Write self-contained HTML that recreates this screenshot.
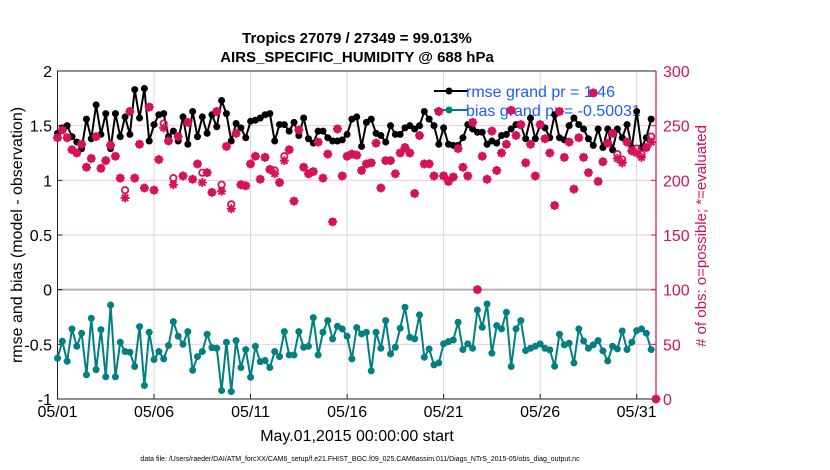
<!DOCTYPE html>
<html><head><meta charset="utf-8"><style>
body{margin:0;background:#fff;}
svg{display:block;font-family:"Liberation Sans",sans-serif;}
</style></head><body>
<svg id="chart" width="830" height="470" viewBox="0 0 830 470" xmlns="http://www.w3.org/2000/svg">
<rect width="830" height="470" fill="#fff"/>
<text x="357" y="43" text-anchor="middle" font-size="15" font-weight="bold">Tropics 27079 / 27349 = 99.013%</text>
<text x="357" y="62" text-anchor="middle" font-size="15" font-weight="bold">AIRS_SPECIFIC_HUMIDITY @ 688 hPa</text>
<g id="grid"></g>
<g id="axes"></g>
<g id="legend">
<line x1="434" y1="91" x2="468" y2="91" stroke="#000" stroke-width="2"/>
<circle cx="449" cy="91" r="3.5" fill="#000"/>
<text x="466" y="97" font-size="16" fill="#1f5cff">rmse grand pr = 1.46</text>
<line x1="434" y1="110" x2="468" y2="110" stroke="#008080" stroke-width="2"/>
<circle cx="449" cy="110" r="3.5" fill="#008080"/>
<text x="466" y="116" font-size="16" fill="#1f5cff">bias grand pr = -0.50031</text>
</g>
<g id="marks"></g>
<text transform="translate(22,235) rotate(-90)" text-anchor="middle" font-size="16">rmse and bias (model - observation)</text>
<text transform="translate(706,236) rotate(-90)" text-anchor="middle" font-size="15" fill="#d0105a"># of obs: o=possible; *=evaluated</text>
<text x="357" y="441" text-anchor="middle" font-size="16">May.01,2015 00:00:00 start</text>
<text x="360" y="461" text-anchor="middle" font-size="7">data file: /Users/raeder/DAI/ATM_forcXX/CAM6_setup/f.e21.FHIST_BGC.f09_025.CAM6assim.011/Diags_NTrS_2015-05/obs_diag_output.nc</text>
</svg>
<script>
const xTickLabels=["05/01","05/06","05/11","05/16","05/21","05/26","05/31"];
const xTickDays=[0,5,10,15,20,25,30];
const yTicks=[2,1.5,1,0.5,0,-0.5,-1];
const yTickLabels=["2","1.5","1","0.5","0","-0.5","-1"];
const y2Ticks=[300,250,200,150,100,50,0];
const rmse=[1.43,1.48,1.50,1.40,1.35,1.29,1.56,1.38,1.69,1.42,1.61,1.29,1.61,1.40,1.58,1.42,1.83,1.57,1.84,1.36,1.51,1.60,1.61,1.40,1.45,1.36,1.58,1.33,1.63,1.40,1.58,1.43,1.60,1.49,1.73,1.61,1.36,1.52,1.48,1.39,1.54,1.55,1.57,1.60,1.61,1.36,1.51,1.51,1.45,1.53,1.41,1.57,1.38,1.34,1.45,1.45,1.39,1.36,1.36,1.37,1.42,1.56,1.58,1.31,1.53,1.56,1.43,1.41,1.35,1.50,1.42,1.42,1.48,1.50,1.47,1.50,1.63,1.56,1.50,1.33,1.48,1.33,1.32,1.32,1.39,1.51,1.47,1.44,1.44,1.33,1.36,1.34,1.41,1.42,1.47,1.51,1.50,1.38,1.57,1.38,1.51,1.48,1.39,1.60,1.39,1.37,1.50,1.57,1.51,1.47,1.38,1.32,1.47,1.30,1.47,1.28,1.47,1.39,1.51,1.30,1.63,1.30,1.39,1.56];
const bias=[-0.627,-0.472,-0.655,-0.359,-0.518,-0.399,-0.779,-0.262,-0.731,-0.365,-0.797,-0.140,-0.797,-0.481,-0.566,-0.572,-0.703,-0.338,-0.877,-0.390,-0.639,-0.566,-0.633,-0.511,-0.292,-0.426,-0.499,-0.384,-0.737,-0.612,-0.566,-0.408,-0.530,-0.536,-0.922,-0.481,-0.932,-0.466,-0.712,-0.548,-0.801,-0.518,-0.658,-0.648,-0.712,-0.566,-0.612,-0.384,-0.597,-0.597,-0.384,-0.527,-0.518,-0.256,-0.597,-0.390,-0.283,-0.450,-0.335,-0.359,-0.426,-0.633,-0.347,-0.405,-0.390,-0.743,-0.390,-0.536,-0.283,-0.588,-0.527,-0.353,-0.161,-0.435,-0.450,-0.231,-0.618,-0.542,-0.688,-0.670,-0.496,-0.475,-0.460,-0.298,-0.548,-0.496,-0.536,-0.186,-0.344,-0.131,-0.581,-0.329,-0.359,-0.207,-0.703,-0.359,-0.283,-0.557,-0.536,-0.518,-0.496,-0.536,-0.551,-0.700,-0.408,-0.505,-0.490,-0.670,-0.359,-0.469,-0.536,-0.505,-0.466,-0.560,-0.652,-0.518,-0.542,-0.378,-0.548,-0.481,-0.375,-0.359,-0.399,-0.548];
const evaluated=[239,246,239,228,225,233,212,220,240,211,218,232,222,202,184,263,202,233,193,267,191,219,248,236,196,240,204,253,201,215,198,207,189,263,190,231,174,243,196,195,215,222,201,221,210,206,198,218,228,181,246,212,206,208,235,202,224,162,247,204,222,224,223,209,215,216,234,193,218,218,206,225,230,225,188,241,215,215,204,263,204,199,203,229,212,204,253,100,222,201,245,209,225,233,264,241,251,216,233,204,251,238,225,177,263,221,235,192,239,221,207,280,199,217,234,243,220,216,235,227,225,221,230,235,0];
const possible=[239,246,239,228,225,233,212,220,240,211,218,232,222,202,191,263,202,233,193,267,191,219,252,236,202,240,204,253,201,215,207,207,189,263,196,231,178,243,196,195,215,222,201,221,210,209,198,222,228,181,246,212,206,208,235,202,224,162,247,204,222,224,223,209,215,216,234,193,218,218,206,225,230,225,188,241,215,215,204,263,204,199,203,229,212,204,253,100,222,201,245,209,225,233,264,241,251,216,233,204,251,238,225,177,263,221,235,192,239,221,207,280,199,217,234,243,224,219,235,227,229,224,230,240,0];

const NS="http://www.w3.org/2000/svg";
const X0=57.5,X1=656,Y0=71,Y1=399,TMAX=31;
const xs=d=>X0+(d/TMAX)*(X1-X0);
const ys=v=>Y0+(2-v)/3*(Y1-Y0);
const y2s=c=>Y1-c/300*(Y1-Y0);
const tOf=i=>i*0.25;
function mk(tag,attrs,parent){const e=document.createElementNS(NS,tag);for(const k in attrs)e.setAttribute(k,attrs[k]);parent.appendChild(e);return e;}
const grid=document.getElementById('grid'),axes=document.getElementById('axes'),marks=document.getElementById('marks');
const PINK="#d5125c";
yTicks.forEach((v,i)=>{
  if(v!==2&&v!==-1&&v!==0){const l=mk('line',{x1:X0,x2:X1,y1:ys(v),y2:ys(v),stroke:'#f4c8d8','stroke-width':1},grid);
    
    }
  const t=mk('text',{x:52,y:ys(v)+6,'text-anchor':'end','font-size':16},axes);t.textContent=yTickLabels[i];
  
  
  mk('line',{x1:X0,x2:X0+5,y1:ys(v),y2:ys(v),stroke:'#222'},axes);
});
xTickDays.forEach((d,i)=>{
  if(d>0){const l=mk('line',{x1:xs(d),x2:xs(d),y1:Y0,y2:Y1,stroke:'#d8d8d8','stroke-width':1},grid);
    
    }
  mk('line',{x1:xs(d),x2:xs(d),y1:Y1,y2:Y1-5,stroke:'#222'},axes);
  const t=mk('text',{x:xs(d),y:417,'text-anchor':'middle','font-size':16},axes);t.textContent=xTickLabels[i];
  
  
});
const z=mk('line',{x1:X0,x2:X1,y1:ys(0),y2:ys(0),stroke:'#b8b0b4','stroke-width':2},grid);


y2Ticks.forEach(c=>{
  mk('line',{x1:X1-5,x2:X1,y1:y2s(c),y2:y2s(c),stroke:PINK},axes);
  const t=mk('text',{x:663,y:y2s(c)+6,'font-size':16,fill:PINK},axes);t.textContent=String(c);
  
  
});
const frame=mk('path',{d:`M${X1},${Y0} L${X0},${Y0} L${X0},${Y1} L${X1},${Y1}`,fill:'none',stroke:'#222','stroke-width':1},axes);


const rax=mk('line',{x1:X1,x2:X1,y1:Y0,y2:Y1,stroke:PINK,'stroke-width':1.2},axes);



function series(vals,color,name){
  const g=mk('g',{},marks);
  
  
  mk('polyline',{points:vals.map((v,i)=>xs(tOf(i))+','+ys(v)).join(' '),fill:'none',stroke:color,'stroke-width':2},g);
  vals.forEach((v,i)=>{const c=mk('circle',{cx:xs(tOf(i)),cy:ys(v),r:3.5,fill:color},g);
    
    });
}
series(rmse,'#000','rmse-series');
series(bias,'#008080','bias-series');
const pg=mk('g',{},marks);


possible.forEach((c,i)=>{const o=mk('circle',{cx:xs(tOf(i)),cy:y2s(c),r:3.2,fill:'none',stroke:PINK,'stroke-width':1.8},pg);
  
  });
evaluated.forEach((c,i)=>{const x=xs(tOf(i)),y=y2s(c),r=4.5;
  const p=mk('path',{d:`M${x-r},${y}H${x+r}M${x},${y-r}V${y+r}M${x-3.2},${y-3.2}L${x+3.2},${y+3.2}M${x-3.2},${y+3.2}L${x+3.2},${y-3.2}`,stroke:PINK,'stroke-width':2},pg);
  
  
  mk('circle',{cx:x,cy:y,r:2.6,fill:PINK},pg);});
</script>
</body></html>
